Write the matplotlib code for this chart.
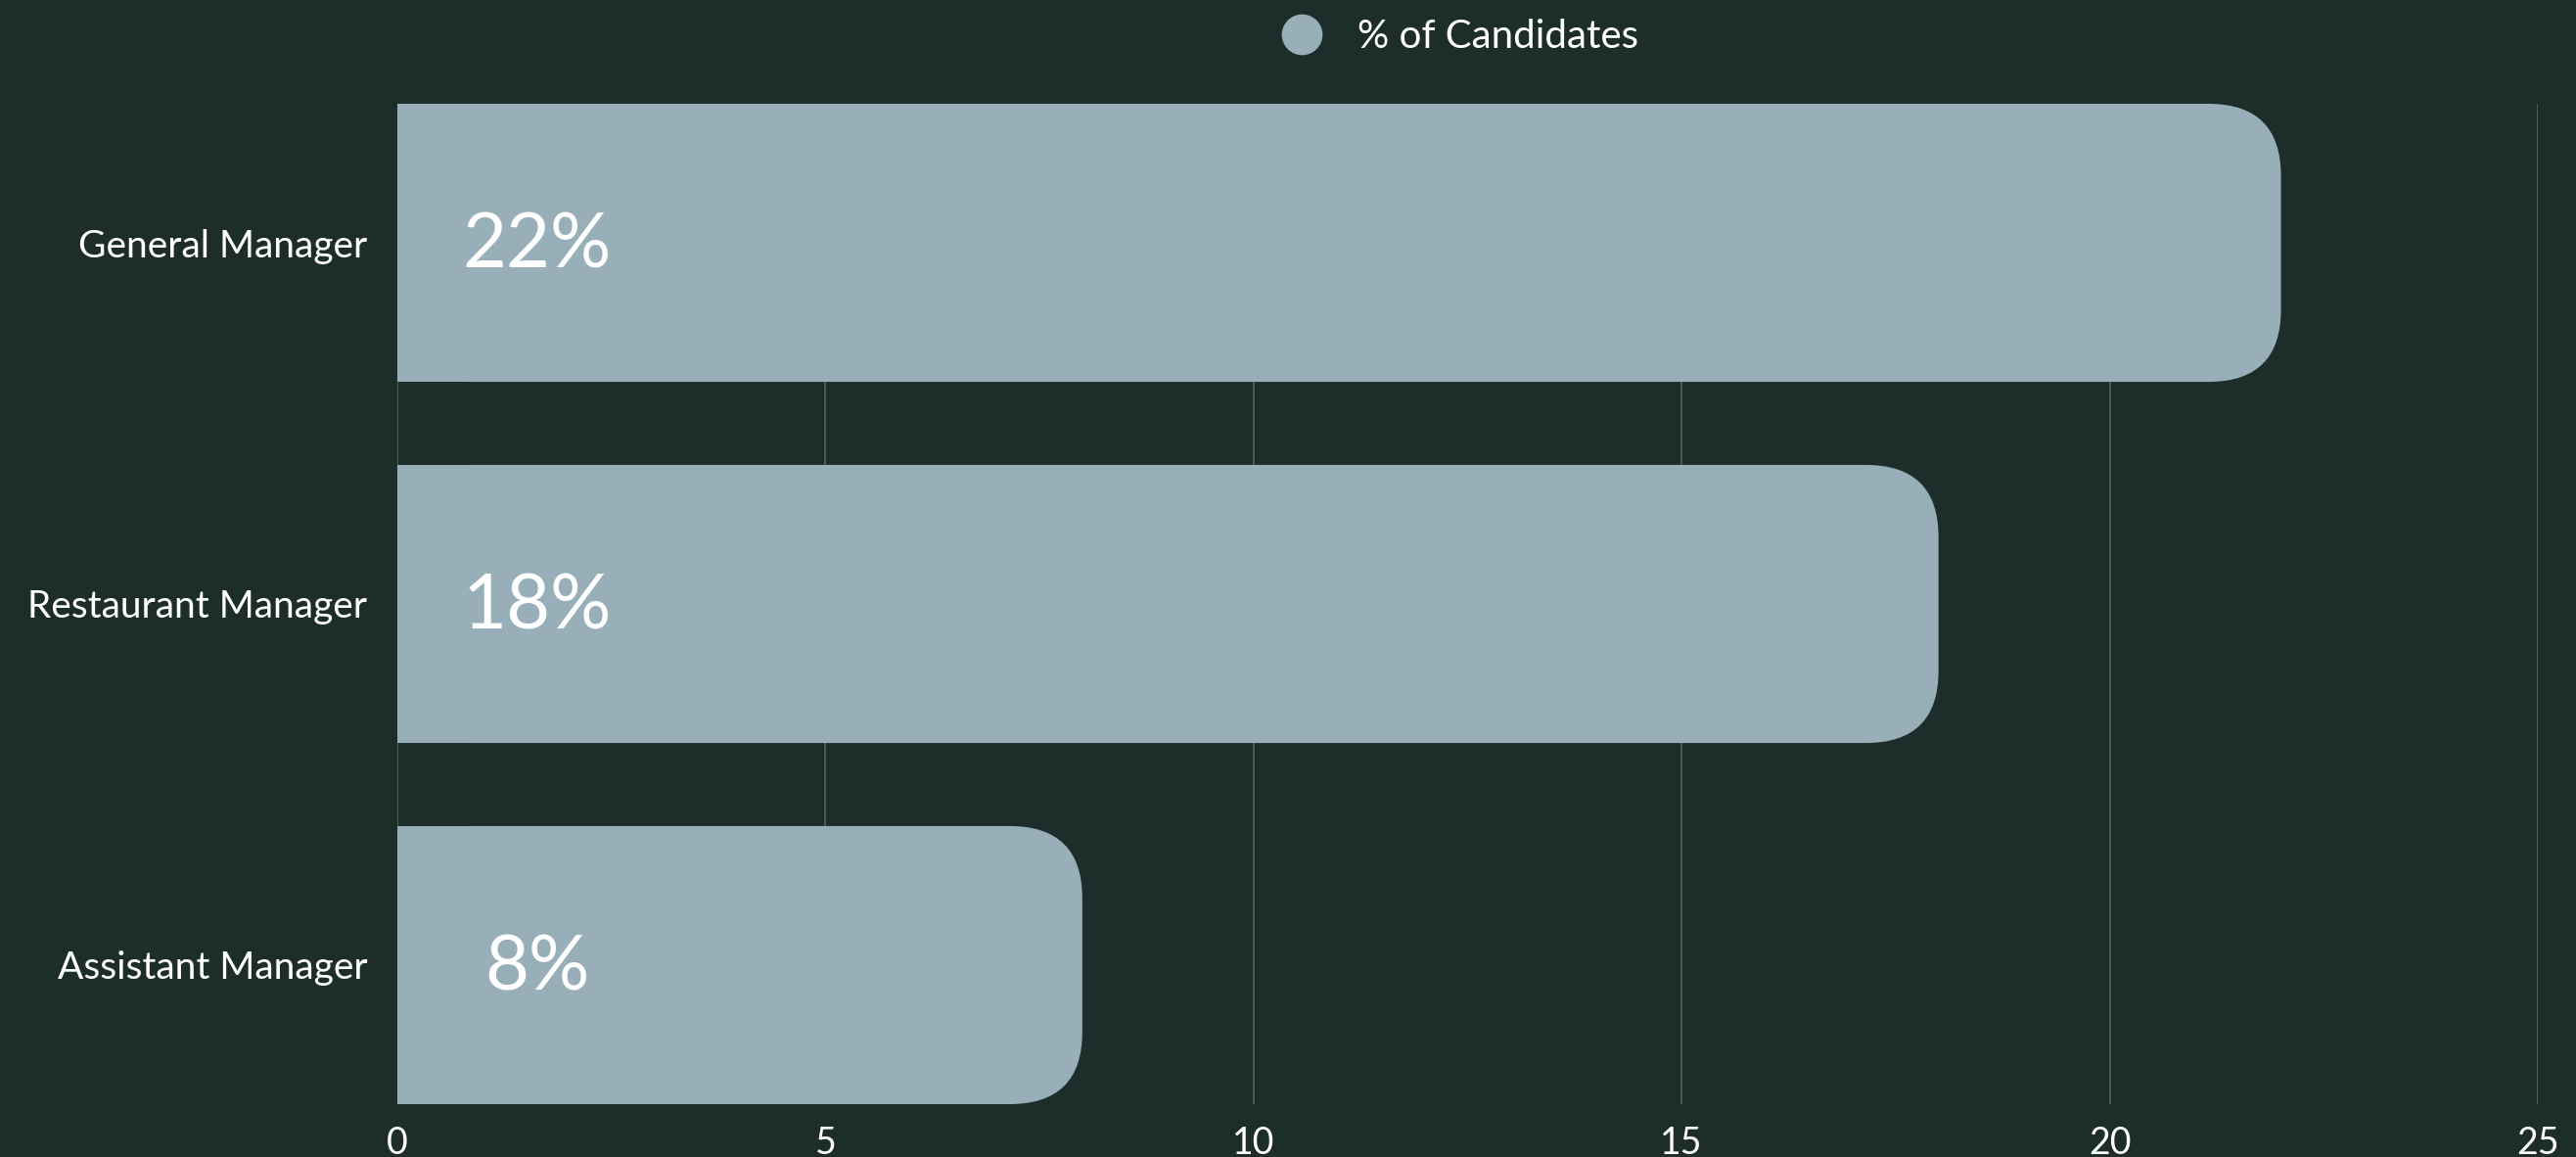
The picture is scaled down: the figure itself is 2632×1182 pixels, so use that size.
import matplotlib
matplotlib.use("Agg")
import matplotlib.pyplot as plt
from matplotlib.patches import FancyBboxPatch
from matplotlib.lines import Line2D

categories = ["General Manager", "Restaurant Manager", "Assistant Manager"]
values = [22, 18, 8]
labels = ["22%", "18%", "8%"]
xticks = [0, 5, 10, 15, 20, 25]
series_name = "% of Candidates"

BG = "#1d2e2a"
BAR = "#98afb9"
GRID = "#55655f"

plt.rcParams['font.family'] = ['Lato', 'DejaVu Sans']

fig = plt.figure(figsize=(26.32, 11.82), dpi=100, facecolor=BG)
ax = fig.add_axes([406 / 2632, 1 - 1128 / 1182, (2593 - 406) / 2632, (1128 - 106) / 1182])
ax.set_facecolor(BG)

bar_h = 0.77
rx = 0.85          # corner radius in x data units
ry = 0.20          # corner radius in y data units

for i, v in enumerate(values):
    # square left part
    ax.barh(i, v - rx, height=bar_h, left=0, color=BAR, linewidth=0, zorder=2)
    # rounded right end
    p = FancyBboxPatch((0, i - bar_h / 2), v, bar_h,
                       boxstyle=f"round,pad=0,rounding_size={rx}",
                       mutation_aspect=ry / rx,
                       facecolor=BAR, edgecolor="none", zorder=2)
    ax.add_patch(p)
    ax.text(1.63, i + 0.01, labels[i], color="white", fontsize=56,
            ha="center", va="center", zorder=3)

ax.set_xlim(0, 25)
ax.set_ylim(len(values) - 1 + bar_h / 2, -bar_h / 2)
ax.set_xticks(xticks)
ax.set_yticks(range(len(categories)))
ax.set_yticklabels(categories)
ax.tick_params(axis="y", length=0, pad=22, labelsize=28, labelcolor="white")
ax.tick_params(axis="x", length=0, pad=16, labelsize=27, labelcolor="white")
ax.grid(axis="x", color=GRID, linewidth=1.2, zorder=0)
ax.set_axisbelow(True)
for s in ax.spines.values():
    s.set_visible(False)

handle = Line2D([], [], marker="o", linestyle="none", markersize=30,
                markerfacecolor=BAR, markeredgecolor="none")
ax.legend([handle], [series_name], loc="lower center", bbox_to_anchor=(0.492, 1.0),
          frameon=False, fontsize=29, labelcolor="white", handletextpad=0.4,
          borderaxespad=0.85)

fig.savefig("out.png", dpi=100, facecolor=BG)
